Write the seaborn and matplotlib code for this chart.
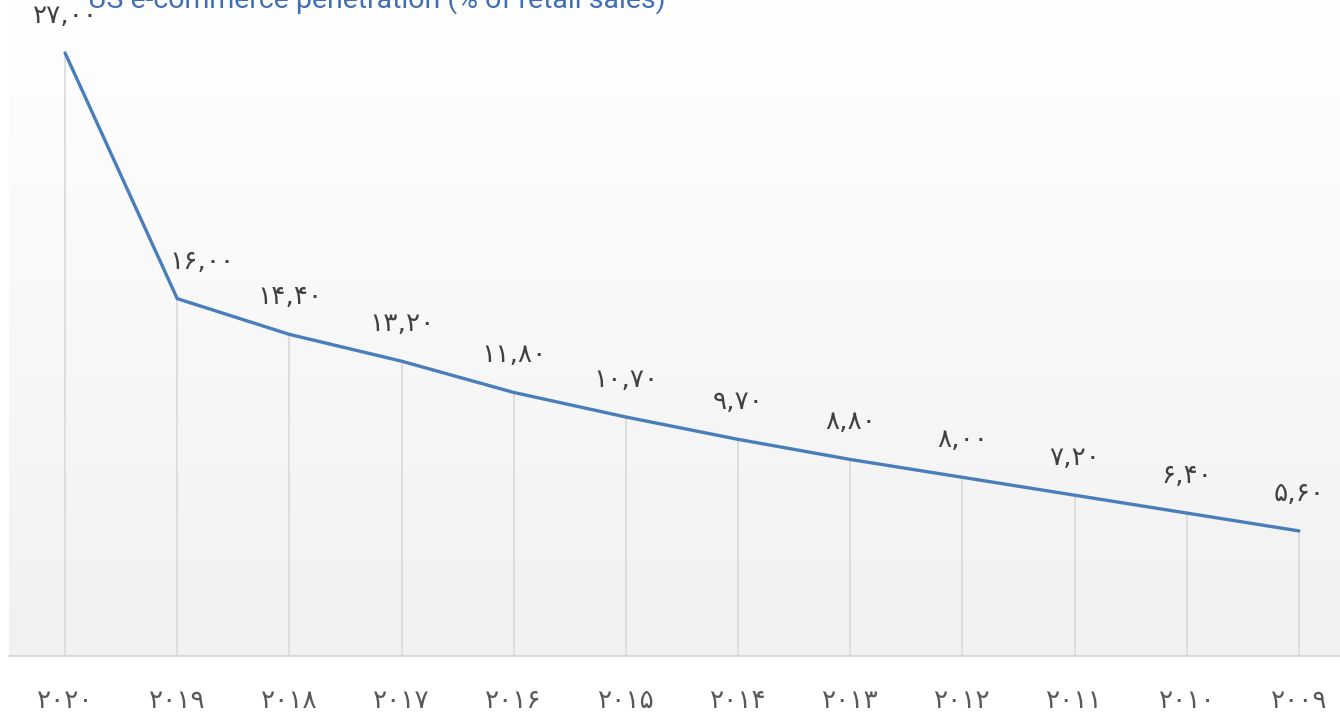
import matplotlib
matplotlib.use("Agg")
import matplotlib.pyplot as plt
import seaborn as sns
import numpy as np
import pandas as pd
from matplotlib.colors import LinearSegmentedColormap

years = [2020, 2019, 2018, 2017, 2016, 2015, 2014, 2013, 2012, 2011, 2010, 2009]
values = [27.00, 16.00, 14.40, 13.20, 11.80, 10.70, 9.70, 8.80, 8.00, 7.20, 6.40, 5.60]
title = "US e-commerce penetration (% of retail sales)"

FA = str.maketrans("0123456789", "۰۱۲۳۴۵۶۷۸۹")
def fa(s):
    return s.translate(FA)

df = pd.DataFrame({"pos": np.arange(len(years)), "year": years, "value": values})

sns.set_theme(style="white")
plt.rcParams['font.family'] = ['DejaVu Sans']

fig = plt.figure(figsize=(13.4, 7.19), dpi=100)
fig.patch.set_facecolor("white")
ax = fig.add_axes([9/1340, 63/719, 1 - 9/1340, 656/719])

xmin, xmax = -0.5, (1340 - 65) / 112.18
ymin, ymax = 0, 27 + 53 / 22.34
grad = np.linspace(0, 1, 256).reshape(-1, 1)
cmap = LinearSegmentedColormap.from_list("g", ["#f1f1f1", "#ffffff"])
ax.imshow(grad, extent=[xmin, xmax, ymin, ymax], origin="lower", aspect="auto",
          cmap=cmap, zorder=0)

ax.vlines(df["pos"], 0, df["value"], color="#d9d9d9", linewidth=1.2, zorder=1)
sns.lineplot(data=df, x="pos", y="value", ax=ax, color="#4a7ebb", linewidth=2.4,
             zorder=3, legend=False)

for p, v in zip(df["pos"], df["value"]):
    dx = 25 if p == 1 else 0
    ax.annotate(fa(f"{v:.2f}".replace(".", ",")), (p, v), xytext=(dx, 37),
                textcoords="offset pixels", ha="center", va="center",
                fontsize=19, color="#404040", zorder=4)

ax.set_xlim(xmin, xmax)
ax.set_ylim(ymin, ymax)
ax.set_xticks(df["pos"])
ax.set_xticklabels([fa(str(y)) for y in years], fontsize=19, color="#595959")
ax.tick_params(axis="x", length=0, pad=23)
ax.set_yticks([])
ax.set_xlabel("")
ax.set_ylabel("")
for s in ["top", "right", "left"]:
    ax.spines[s].set_visible(False)
ax.spines["bottom"].set_color("#d9d9d9")
ax.spines["bottom"].set_linewidth(1.5)

fig.text(377 / 1340, 1 - 8 / 719, title, ha="center", va="baseline",
         fontsize=20.5, color="#3f6fb5", family=["Roboto", "DejaVu Sans"], zorder=2)

fig.savefig("out.png", dpi=100, facecolor="white")
